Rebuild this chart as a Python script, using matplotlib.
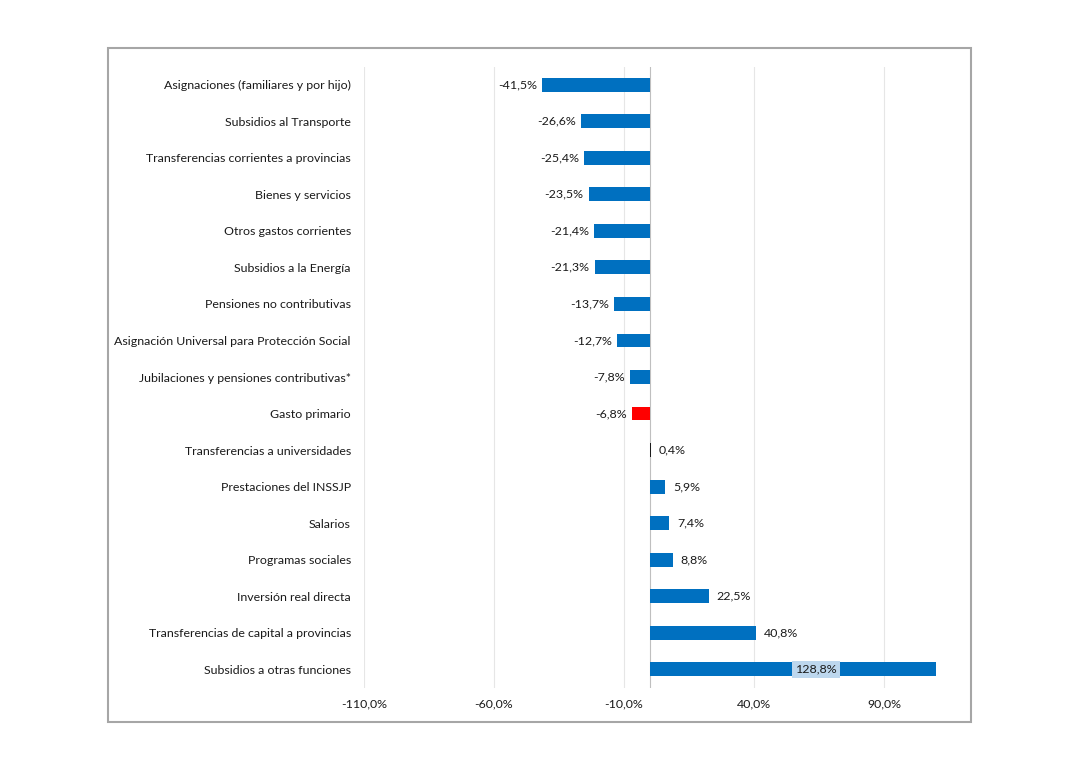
import matplotlib
matplotlib.use("Agg")
import matplotlib.pyplot as plt
from matplotlib.patches import Rectangle

categories = [
    "Asignaciones (familiares y por hijo)",
    "Subsidios al Transporte",
    "Transferencias corrientes a provincias",
    "Bienes y servicios",
    "Otros gastos corrientes",
    "Subsidios a la Energía",
    "Pensiones no contributivas",
    "Asignación Universal para Protección Social",
    "Jubilaciones y pensiones contributivas*",
    "Gasto primario",
    "Transferencias a universidades",
    "Prestaciones del INSSJP",
    "Salarios",
    "Programas sociales",
    "Inversión real directa",
    "Transferencias de capital a provincias",
    "Subsidios a otras funciones",
]
values = [-41.5, -26.6, -25.4, -23.5, -21.4, -21.3, -13.7, -12.7, -7.8, -6.8,
          0.4, 5.9, 7.4, 8.8, 22.5, 40.8, 128.8]
xticks = [-110, -60, -10, 40, 90]

BLUE = "#0070C0"
RED = "#FF0000"
colors = [RED if c == "Gasto primario" else ("#1a1a1a" if abs(v) < 1 else BLUE)
          for c, v in zip(categories, values)]

plt.rcParams['font.family'] = ['Lato', 'DejaVu Sans']
FS = 8.9

fig = plt.figure(figsize=(10.8, 7.74), dpi=100)
fig.patches.append(Rectangle((108/1080, 1-722/774), (971-108)/1080, (722-48)/774,
                             transform=fig.transFigure, fill=False,
                             edgecolor="#A6A6A6", linewidth=1.5, zorder=0))

ax = fig.add_axes([364/1080, 1-687.5/774, (936-364)/1080, (687.5-66.5)/774])
xmin, xmax = -110, 110
y = list(range(len(categories)))
ax.barh(y, values, height=0.38, color=colors, zorder=3)
ax.set_xlim(xmin, xmax)
ax.set_ylim(len(categories)-0.5, -0.5)

ax.set_yticks(y)
ax.set_yticklabels(categories, fontsize=FS, color="#1a1a1a")
ax.set_xticks(xticks)
ax.set_xticklabels([f"{t:.1f}%".replace(".", ",") for t in xticks], fontsize=FS, color="#1a1a1a")
ax.tick_params(axis="both", length=0)
ax.tick_params(axis="y", pad=9.5)
ax.tick_params(axis="x", pad=8)

for s in ax.spines.values():
    s.set_visible(False)
ax.grid(axis="x", color="#E6E6E6", linewidth=0.8, zorder=0)
ax.axvline(0, color="#BFBFBF", linewidth=0.8, zorder=2)

for yi, v in zip(y, values):
    lab = f"{v:.1f}%".replace(".", ",")
    if v > xmax:
        ax.text(64, yi, lab, ha="center", va="center", fontsize=FS, color="#1a1a1a", zorder=5,
                bbox=dict(boxstyle="square,pad=0.25", facecolor="#BDD7EE", edgecolor="none"))
    elif v < 0:
        ax.text(v - 2, yi, lab, ha="right", va="center", fontsize=FS, color="#1a1a1a", zorder=5)
    else:
        ax.text(v + 3, yi, lab, ha="left", va="center", fontsize=FS, color="#1a1a1a", zorder=5)

fig.savefig("out.png", dpi=100)
